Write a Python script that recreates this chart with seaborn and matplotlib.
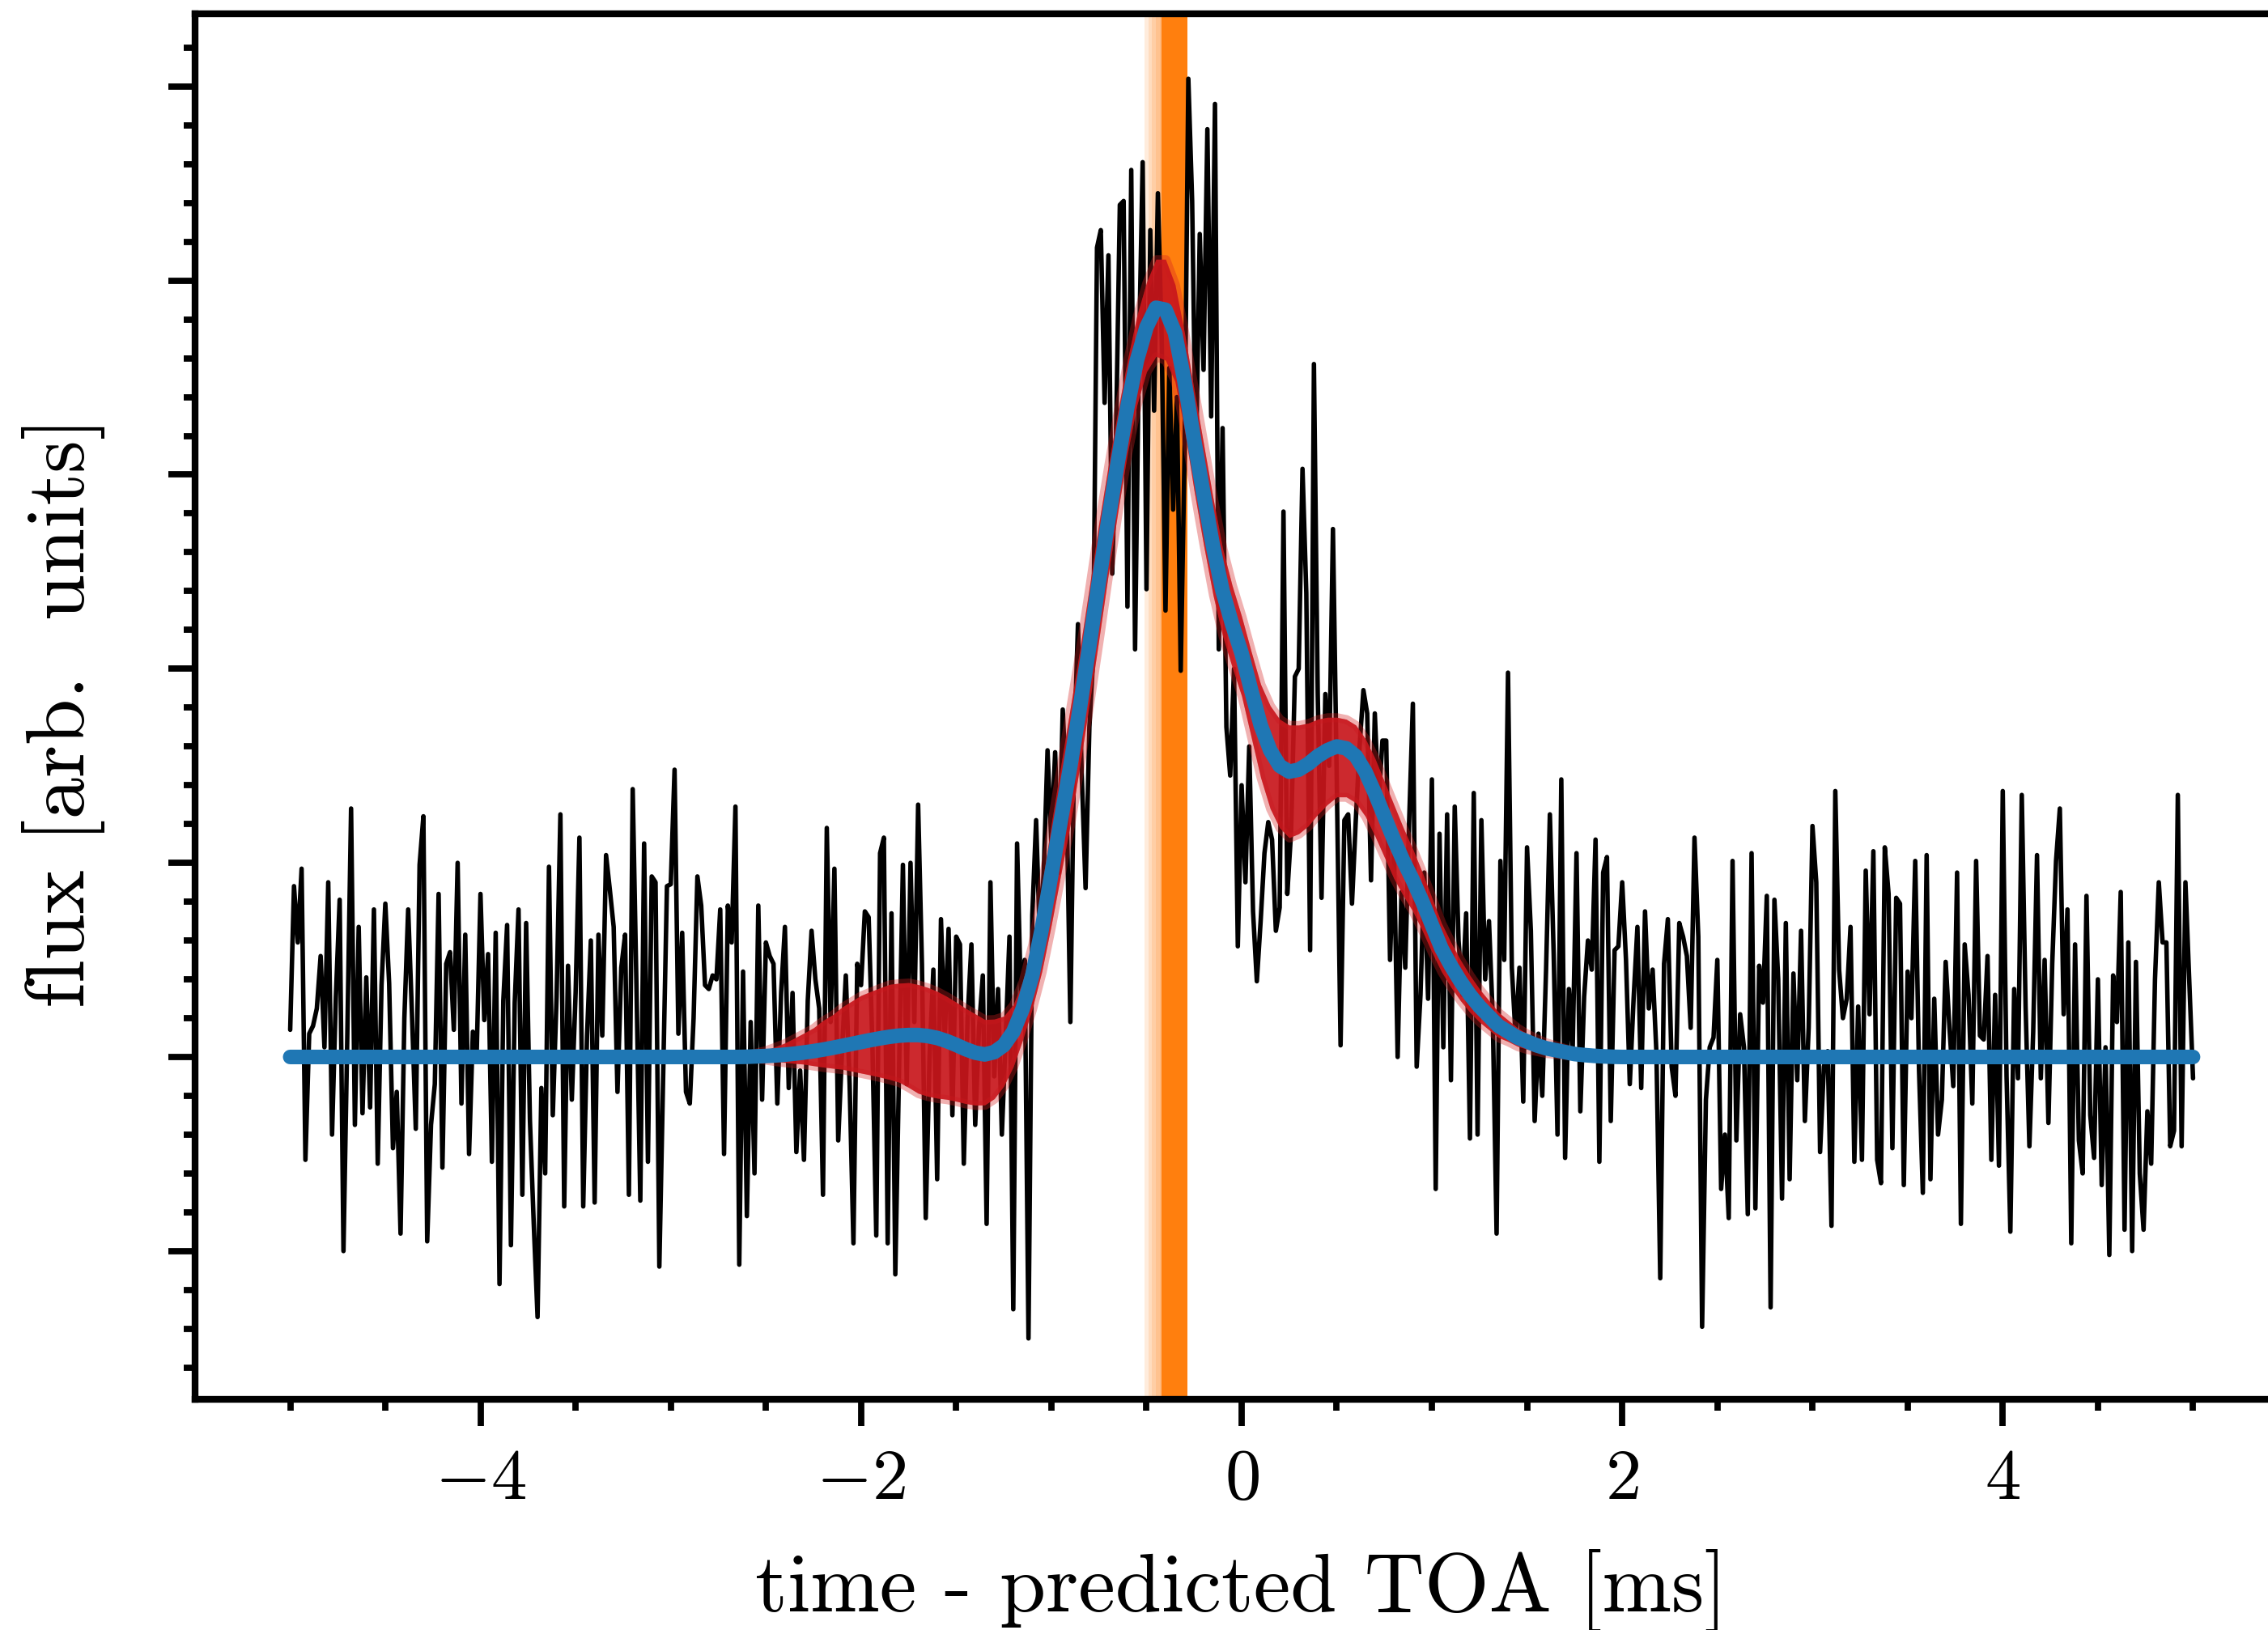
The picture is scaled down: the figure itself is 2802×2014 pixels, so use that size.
import numpy as np
import pandas as pd
import matplotlib
matplotlib.use("Agg")
import matplotlib.pyplot as plt
from matplotlib.ticker import FixedLocator, MultipleLocator, FuncFormatter, NullFormatter
import seaborn as sns

# measured pulse profile, one sample every 0.02 ms from -5 to 5 ms
flux = [
    0.14, 0.88, 0.59, 0.97, -0.53, 0.12, 0.16, 0.25, 0.52, 0.05,
    0.90, -0.40, 0.31, 0.81, -1.00, 0.10, 1.28, -0.35, 0.67, -0.29,
    0.41, -0.26, 0.76, -0.55, 0.37, 0.79, 0.38, -0.47, -0.18, -0.91,
    0.20, 0.76, 0.22, -0.37, 0.99, 1.24, -0.95, -0.35, -0.14, 0.84,
    -0.57, 0.48, 0.54, 0.14, 1.00, -0.24, 0.63, -0.50, 0.13, 0.01,
    0.84, 0.19, 0.53, -0.54, 0.64, -1.17, 0.29, 0.68, -0.97, 0.28,
    0.76, -0.71, 0.69, -0.33, -0.86, -1.34, -0.16, -0.60, 0.98, -0.30,
    0.31, 1.25, -0.77, 0.47, -0.22, 0.33, 1.13, -0.77, 0.11, 0.60,
    -0.75, 0.63, 0.11, 1.04, 0.86, 0.67, -0.18, 0.46, 0.63, -0.71,
    1.38, 0.35, -0.74, 1.10, -0.54, 0.93, 0.90, -1.08, -0.09, 0.88,
    0.89, 1.48, 0.12, 0.64, -0.18, -0.24, 0.20, 0.93, 0.78, 0.37,
    0.35, 0.42, 0.40, 0.76, -0.50, 0.78, 0.59, 1.29, -1.07, 0.44,
    -0.82, 0.18, -0.60, 0.78, -0.22, 0.59, 0.52, 0.48, -0.24, 0.33,
    0.67, -0.16, 0.33, -0.49, -0.07, -0.53, 0.29, 0.65, 0.40, 0.25,
    -0.71, 1.18, 0.18, 0.97, -0.43, 0.03, 0.42, -0.14, -0.96, 0.48,
    0.37, 0.75, 0.72, 0.05, -0.92, 1.05, 1.13, -0.96, 0.74, -1.12,
    -0.05, 0.99, -0.14, 1.00, 0.18, 1.30, 0.48, -0.83, 0.00, 0.45,
    -0.63, 0.71, 0.10, 0.66, -0.30, 0.62, 0.58, -0.55, 0.20, 0.58,
    -0.35, 0.15, 0.42, -0.86, 0.90, -0.10, 0.35, -0.40, 0.10, 0.62,
    -1.30, 1.10, 0.30, 0.50, -1.45, 0.73, 1.22, 0.60, 0.95, 1.58,
    1.10, 1.57, 0.95, 1.79, 1.35, 0.18, 1.60, 2.23, 1.45, 0.87,
    1.70, 2.05, 4.17, 4.26, 3.37, 4.13, 2.49, 3.20, 4.39, 4.41,
    2.32, 4.57, 2.10, 3.60, 4.61, 2.41, 4.26, 3.33, 4.45, 3.70,
    2.30, 3.55, 2.82, 3.40, 1.99, 3.10, 5.04, 4.41, 3.05, 4.24,
    3.54, 4.78, 3.30, 4.91, 2.10, 3.24, 1.70, 1.45, 2.00, 0.57,
    1.40, 0.90, 1.60, 0.75, 0.39, 0.70, 1.05, 1.21, 1.12, 0.65,
    0.77, 2.81, 0.84, 1.16, 1.96, 2.00, 3.03, 2.39, 0.55, 3.57,
    1.87, 0.82, 1.87, 1.50, 2.72, 1.43, 0.06, 1.22, 1.25, 0.79,
    1.22, 1.60, 1.89, 1.77, 0.91, 1.77, 1.30, 1.63, 1.63, 0.50,
    1.10, 0.00, 0.85, 0.46, 1.20, 1.82, -0.05, 0.32, 0.95, 0.30,
    1.43, -0.68, 1.15, 0.05, 1.25, -0.12, 1.29, 0.60, 0.32, 0.74,
    -0.42, 1.36, -0.40, 1.22, 0.40, 0.70, 0.20, -0.91, 1.01, 0.50,
    1.98, 0.46, 0.10, 0.46, -0.23, 1.08, 0.65, -0.33, 0.12, -0.20,
    0.45, 1.25, 0.53, -0.40, 1.43, -0.52, 0.35, 0.05, 1.05, -0.28,
    0.31, 0.60, 0.45, 1.12, -0.54, 0.95, 1.03, -0.33, 0.55, 0.57,
    0.90, 0.50, -0.14, 0.30, 0.67, -0.16, 0.75, 0.25, 0.45, 0.02,
    -1.14, 0.48, 0.71, -0.05, -0.20, 0.69, 0.62, 0.52, 0.15, 1.13,
    0.62, -1.39, -0.22, 0.05, 0.10, 0.50, -0.68, -0.40, -0.83, 1.01,
    -0.43, 0.22, 0.05, -0.81, 1.05, -0.78, 0.47, 0.28, 0.83, -1.29,
    0.81, 0.40, -0.73, 0.69, -0.63, 0.43, -0.12, 0.65, -0.33, 0.15,
    1.19, 0.90, -0.49, -0.05, 0.03, -0.87, 1.37, 0.45, 0.20, 0.30,
    0.67, -0.54, 0.26, -0.53, 0.96, 0.22, 1.06, -0.53, -0.65, 1.08,
    0.84, -0.47, 0.82, 0.79, -0.66, 0.44, 0.20, 1.01, -0.07, -0.70,
    1.04, -0.63, 0.30, -0.40, -0.22, 0.49, 0.15, -0.15, 0.95, -0.86,
    0.58, 0.32, -0.24, 1.01, 0.11, 0.09, 0.52, -0.53, 0.32, -0.56,
    1.37, -0.10, -0.90, 0.35, -0.11, 1.35, 0.26, -0.46, 0.13, 1.04,
    -0.11, 0.50, -0.34, 0.48, 1.01, 1.28, 0.22, 0.76, -0.96, 0.58,
    -0.43, -0.60, 0.83, -0.30, -0.52, 0.40, -0.66, 0.05, -1.02, 0.42,
    0.18, 0.85, -0.89, 0.59, -1.00, 0.49, -0.60, -0.89, -0.28, -0.55,
    0.40, 0.90, 0.59, 0.59, -0.46, -0.38, 1.35, -0.46, 0.90, 0.40,
    -0.11,
]
flux_t = np.round(np.arange(len(flux)) * 0.02 - 5.0, 2)

# best-fit model, 0.05 ms steps from -2.8 to 2.2 ms (zero outside)
fit_core = [
    0.0, 0.0, 0.0, 0.0, 0.001, 0.003, 0.005, 0.008, 0.012, 0.017,
    0.023, 0.030, 0.038, 0.047, 0.057, 0.067, 0.077, 0.087, 0.096, 0.104,
    0.110, 0.113, 0.113, 0.108, 0.098, 0.082, 0.062, 0.040, 0.022, 0.013,
    0.025, 0.060, 0.13, 0.25, 0.42, 0.66, 0.94, 1.22, 1.50, 1.80,
    2.12, 2.45, 2.77, 3.07, 3.35, 3.59, 3.76, 3.86, 3.85, 3.73,
    3.48, 3.18, 2.90, 2.63, 2.40, 2.23, 2.08, 1.89, 1.71, 1.58,
    1.50, 1.47, 1.48, 1.51, 1.55, 1.58, 1.60, 1.59, 1.55, 1.47,
    1.36, 1.24, 1.12, 1.01, 0.91, 0.80, 0.68, 0.56, 0.47, 0.39,
    0.32, 0.26, 0.21, 0.16, 0.13, 0.10, 0.08, 0.06, 0.045, 0.035,
    0.025, 0.015, 0.010, 0.006, 0.003, 0.001, 0.0, 0.0, 0.0, 0.0,
    0.0,
]
# spread of the posterior fits above / below the best fit
spread_hi = [
    0.0, 0.0, 0.0, 0.005, 0.01, 0.02, 0.03, 0.045, 0.06, 0.08,
    0.10, 0.12, 0.15, 0.17, 0.20, 0.22, 0.24, 0.25, 0.26, 0.27,
    0.27, 0.27, 0.26, 0.25, 0.24, 0.23, 0.22, 0.21, 0.20, 0.18,
    0.17, 0.15, 0.14, 0.14, 0.16, 0.22, 0.26, 0.28, 0.30, 0.30,
    0.30, 0.30, 0.28, 0.26, 0.24, 0.23, 0.23, 0.25, 0.26, 0.25,
    0.25, 0.26, 0.26, 0.25, 0.22, 0.20, 0.19, 0.20, 0.21, 0.23,
    0.24, 0.24, 0.23, 0.21, 0.19, 0.17, 0.15, 0.15, 0.16, 0.17,
    0.18, 0.18, 0.18, 0.17, 0.16, 0.15, 0.14, 0.13, 0.12, 0.11,
    0.10, 0.09, 0.08, 0.07, 0.06, 0.05, 0.04, 0.035, 0.03, 0.025,
    0.02, 0.015, 0.01, 0.006, 0.003, 0.001, 0.0, 0.0, 0.0, 0.0,
    0.0,
]
spread_lo = [
    0.0, 0.0, 0.0, 0.003, 0.006, 0.01, 0.02, 0.03, 0.04, 0.05,
    0.06, 0.075, 0.09, 0.105, 0.12, 0.14, 0.16, 0.18, 0.20, 0.22,
    0.24, 0.27, 0.30, 0.31, 0.31, 0.30, 0.29, 0.28, 0.27, 0.26,
    0.24, 0.21, 0.18, 0.16, 0.17, 0.22, 0.26, 0.28, 0.30, 0.30,
    0.30, 0.30, 0.28, 0.26, 0.24, 0.23, 0.23, 0.25, 0.26, 0.25,
    0.25, 0.26, 0.26, 0.25, 0.23, 0.22, 0.22, 0.24, 0.27, 0.30,
    0.32, 0.34, 0.33, 0.32, 0.30, 0.28, 0.26, 0.25, 0.24, 0.23,
    0.22, 0.21, 0.20, 0.18, 0.16, 0.15, 0.14, 0.12, 0.11, 0.10,
    0.09, 0.08, 0.07, 0.06, 0.05, 0.045, 0.04, 0.03, 0.025, 0.02,
    0.015, 0.01, 0.008, 0.005, 0.003, 0.001, 0.0, 0.0, 0.0, 0.0,
    0.0,
]
fit_t = np.concatenate([[-5.0], np.round(np.arange(len(fit_core)) * 0.05 - 2.8, 2), [5.0]])

# time of arrival posterior: solid core and faint leading edges
toa_core = (-0.42, -0.285)
toa_fade = [-0.51, -0.49, -0.47, -0.45, -0.43]

df = pd.DataFrame({"t": flux_t, "flux": flux})
fit = pd.DataFrame({
    "t": fit_t,
    "y": np.concatenate([[0.0], fit_core, [0.0]]),
    "hi": np.concatenate([[0.0], spread_hi, [0.0]]),
    "lo": np.concatenate([[0.0], spread_lo, [0.0]]),
})

sns.set_theme(style="ticks")
plt.rcParams["font.family"] = ["cmr10"]
plt.rcParams["mathtext.fontset"] = "cm"
plt.rcParams["axes.unicode_minus"] = False

fig = plt.figure(figsize=(14.01, 10.07), dpi=200)
ax = fig.add_axes([0.086, 0.1415, 0.9229, 0.8501])

for start in toa_fade:
    ax.axvspan(start, toa_core[0], color="#ff7f0e", alpha=0.14, lw=0, zorder=0.5)
ax.axvspan(*toa_core, color="#ff7f0e", lw=0, zorder=0.6)

sns.lineplot(data=df, x="t", y="flux", color="black", lw=2.0,
             estimator=None, sort=False, ax=ax, zorder=2)

band_lo = fit["y"] - fit["lo"]
band_hi = fit["y"] + fit["hi"]
ax.fill_between(fit["t"], band_lo, band_hi, color="#d42020", alpha=0.35,
                lw=4, edgecolor="#d42020", zorder=3)
ax.fill_between(fit["t"], band_lo, band_hi, color="#c8161c", alpha=0.88,
                lw=0, zorder=3.1)

sns.lineplot(data=fit, x="t", y="y", color="#1f77b4", lw=6.5,
             estimator=None, sort=False, ax=ax, zorder=4)

ax.set_xlim(-5.5, 5.5)
ax.set_ylim(-1.764, 5.375)
ax.xaxis.set_major_locator(FixedLocator([-4, -2, 0, 2, 4]))
ax.xaxis.set_minor_locator(FixedLocator(np.arange(-5, 5.01, 0.5)))
ax.xaxis.set_major_formatter(FuncFormatter(lambda v, _: f"${v:.0f}$"))
ax.yaxis.set_major_locator(MultipleLocator(1))
ax.yaxis.set_minor_locator(MultipleLocator(0.2))
ax.yaxis.set_major_formatter(NullFormatter())

ax.tick_params(which="major", length=12, width=2.8, direction="out",
               color="black", labelcolor="black", labelsize=32, pad=10)
ax.tick_params(which="minor", length=5, width=2.8, direction="out", color="black")
ax.tick_params(which="both", top=False, right=False)
for side in ["left", "bottom", "top", "right"]:
    ax.spines[side].set_linewidth(3.0)
    ax.spines[side].set_color("black")

ax.set_xlabel("time - predicted TOA [ms]", fontsize=37, color="black")
ax.xaxis.set_label_coords(0.5, -0.108)
ax.set_ylabel("flux [arb.  units]", fontsize=37, color="black")
ax.yaxis.set_label_coords(-0.043, 0.496)

fig.savefig("out.png", dpi=200)
plt.close(fig)
